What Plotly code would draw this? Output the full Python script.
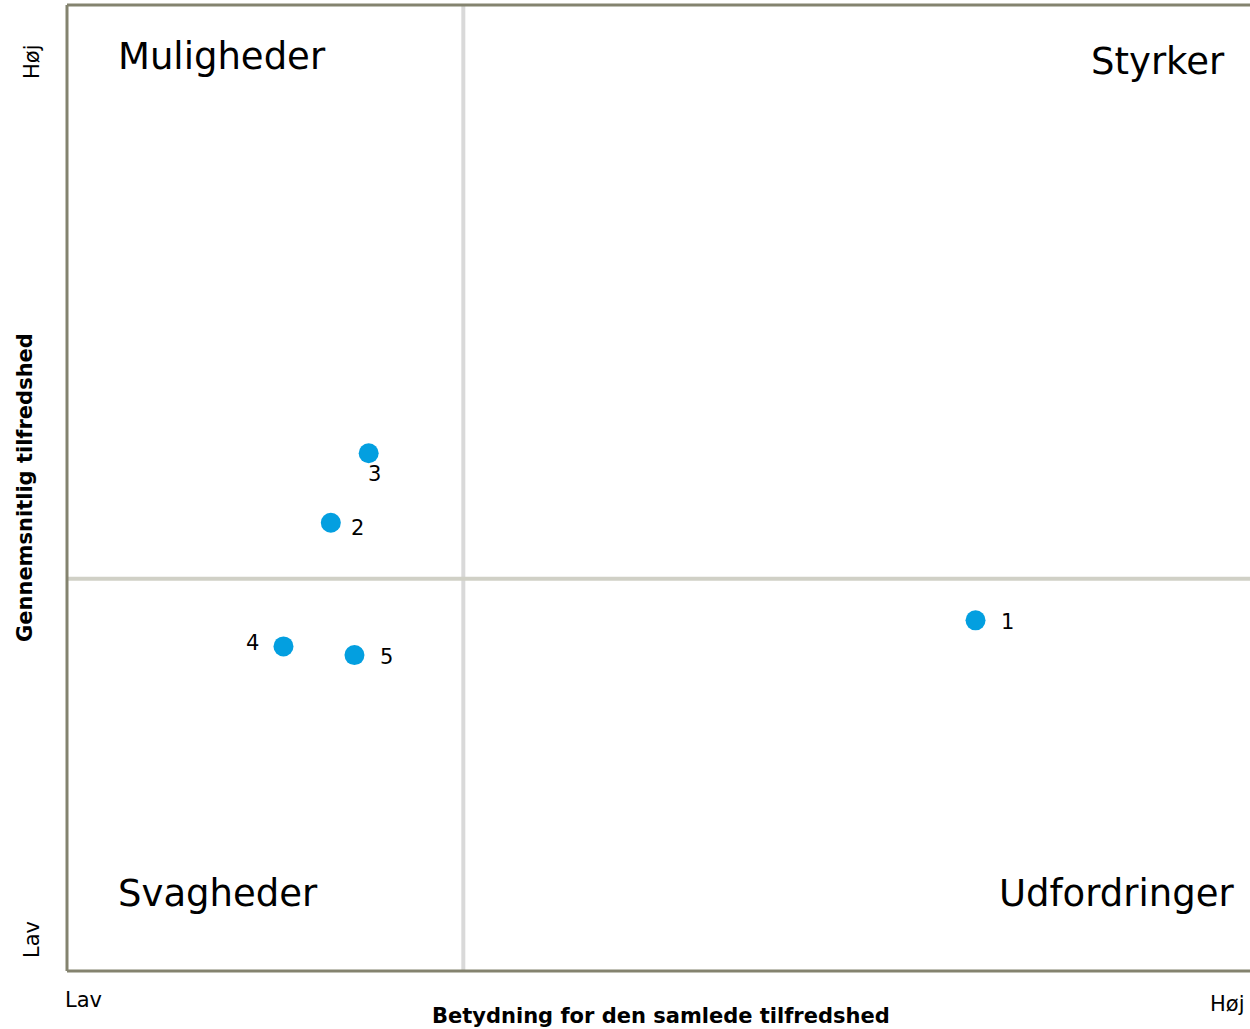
import plotly.graph_objects as go

# Data
labels = ["1", "2", "3", "4", "5"]
importance = [0.768, 0.223, 0.255, 0.183, 0.243]   # Betydning for den samlede tilfredshed (0-1)
satisfaction = [0.363, 0.464, 0.536, 0.336, 0.327]  # Gennemsnitlig tilfredshed (0-1)
label_dx = [32, 27, 6, -31, 32]     # label offset from dot (px)
label_dy = [-1, -4, -20, 4, -1]
x_split = 0.335
y_split = 0.406
quadrants = ["Muligheder", "Styrker", "Svagheder", "Udfordringer"]
low_high = ["Lav", "Høj"]

FONT = "DejaVu Sans"
DOT = "#039fe0"
BORDER = "#84836f"

fig = go.Figure()

# quadrant divider lines
fig.add_shape(type="line", xref="x", yref="paper", x0=x_split, x1=x_split, y0=0, y1=1,
              line=dict(color="#d9d9d9", width=4), layer="below")
fig.add_shape(type="line", xref="paper", yref="y", x0=0, x1=1, y0=y_split, y1=y_split,
              line=dict(color="#d0d0c6", width=4), layer="below")
# borders: left, top, bottom
fig.add_shape(type="line", xref="paper", yref="paper", x0=0, x1=0, y0=0, y1=1,
              line=dict(color=BORDER, width=3))
fig.add_shape(type="line", xref="paper", yref="paper", x0=0, x1=1, y0=1, y1=1,
              line=dict(color=BORDER, width=3))
fig.add_shape(type="line", xref="paper", yref="paper", x0=0, x1=1, y0=0, y1=0,
              line=dict(color=BORDER, width=3))

fig.add_trace(go.Scatter(
    x=importance, y=satisfaction, mode="markers",
    marker=dict(color=DOT, size=20, line=dict(width=0)),
    hoverinfo="skip", showlegend=False, cliponaxis=False,
))
for t, xv, yv, dx, dy in zip(labels, importance, satisfaction, label_dx, label_dy):
    fig.add_annotation(text=t, x=xv, y=yv, xref="x", yref="y", xshift=dx, yshift=dy - 1,
                       xanchor="center", yanchor="middle", showarrow=False,
                       font=dict(family=FONT, size=21, color="#000000"))

# quadrant labels
qfont = dict(family=FONT, size=37, color="#000000")
fig.add_annotation(text=quadrants[0], xref="paper", yref="paper", x=(116-67)/1183, y=(971-57)/966,
                   xanchor="left", yanchor="middle", showarrow=False, font=qfont)
fig.add_annotation(text=quadrants[1], xref="paper", yref="paper", x=(1227-67)/1183, y=(971-61)/966,
                   xanchor="right", yanchor="middle", showarrow=False, font=qfont)
fig.add_annotation(text=quadrants[2], xref="paper", yref="paper", x=(116-67)/1183, y=(971-893)/966,
                   xanchor="left", yanchor="middle", showarrow=False, font=qfont)
fig.add_annotation(text=quadrants[3], xref="paper", yref="paper", x=(1236-67)/1183, y=(971-893)/966,
                   xanchor="right", yanchor="middle", showarrow=False, font=qfont)

# low/high markers
tfont = dict(family=FONT, size=21, color="#000000")
fig.add_annotation(text=low_high[1], xref="paper", yref="paper", x=(32-67)/1183, y=(971-62)/966,
                   xanchor="center", yanchor="middle", textangle=-90, showarrow=False, font=tfont)
fig.add_annotation(text=low_high[0], xref="paper", yref="paper", x=(32-67)/1183, y=(971-940)/966,
                   xanchor="center", yanchor="middle", textangle=-90, showarrow=False, font=tfont)
fig.add_annotation(text=low_high[0], xref="paper", yref="paper", x=(83-67)/1183, y=(971-1000)/966,
                   xanchor="center", yanchor="middle", showarrow=False, font=tfont)
fig.add_annotation(text=low_high[1], xref="paper", yref="paper", x=(1227-67)/1183, y=(971-1004)/966,
                   xanchor="center", yanchor="middle", showarrow=False, font=tfont)

# axis titles
afont = dict(family=FONT, size=21, color="#000000")
fig.add_annotation(text="<b>Betydning for den samlede tilfredshed</b>", xref="paper", yref="paper",
                   x=(661-67)/1183, y=(971-1016)/966, xanchor="center", yanchor="middle",
                   showarrow=False, font=afont)
fig.add_annotation(text="<b>Gennemsnitlig tilfredshed</b>", xref="paper", yref="paper",
                   x=(25-67)/1183, y=(971-488)/966, xanchor="center", yanchor="middle",
                   textangle=-90, showarrow=False, font=afont)

fig.update_xaxes(range=[0, 1], showgrid=False, zeroline=False, showticklabels=False,
                 showline=False, ticks="")
fig.update_yaxes(range=[0, 1], showgrid=False, zeroline=False, showticklabels=False,
                 showline=False, ticks="")
fig.update_layout(
    width=1250, height=1029,
    margin=dict(l=67, r=0, t=5, b=58),
    paper_bgcolor="white", plot_bgcolor="white",
    font=dict(family=FONT),
)

fig.write_html("out.html", config={"displayModeBar": False},
               post_script="document.body.style.margin='0';document.body.style.overflow='hidden';")
